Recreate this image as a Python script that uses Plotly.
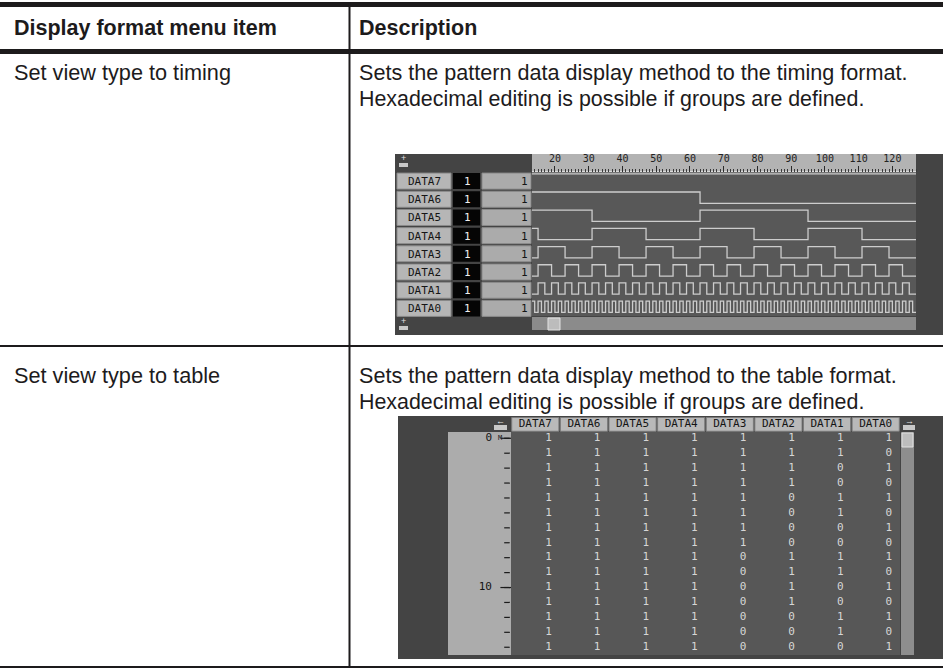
import plotly.graph_objects as go

# ---------------- data ----------------
header_labels = ["Display format menu item", "Description"]
menu_items = ["Set view type to timing", "Set view type to table"]
desc_timing = ["Sets the pattern data display method to the timing format.",
               "Hexadecimal editing is possible if groups are defined."]
desc_table = ["Sets the pattern data display method to the table format.",
              "Hexadecimal editing is possible if groups are defined."]

channels = ["DATA7", "DATA6", "DATA5", "DATA4", "DATA3", "DATA2", "DATA1", "DATA0"]
channel_radix = ["1", "1", "1", "1", "1", "1", "1", "1"]
channel_values = ["1", "1", "1", "1", "1", "1", "1", "1"]

# timing view: levels per step, first visible step = 14
wave_start_step = 14
wave_bits = {
    "DATA7": "11 1111111111111111 1111111111111111 1111111111111111 1111111111111111 1111111111111111 1111111111111111 1111111111111111",
    "DATA6": "11 1111111111111111 1111111111111111 1111111111111111 0000000000000000 0000000000000000 0000000000000000 0000000000000000",
    "DATA5": "11 1111111111111111 0000000000000000 0000000000000000 1111111111111111 1111111111111111 0000000000000000 0000000000000000",
    "DATA4": "11 0000000000000000 1111111111111111 0000000000000000 1111111111111111 0000000000000000 1111111111111111 0000000000000000",
    "DATA3": "00 1111111100000000 1111111100000000 1111111100000000 1111111100000000 1111111100000000 1111111100000000 1111111100000000",
    "DATA2": "00 1111000011110000 1111000011110000 1111000011110000 1111000011110000 1111000011110000 1111000011110000 1111000011110000",
    "DATA1": "00 1100110011001100 1100110011001100 1100110011001100 1100110011001100 1100110011001100 1100110011001100 1100110011001100",
    "DATA0": "10 1010101010101010 1010101010101010 1010101010101010 1010101010101010 1010101010101010 1010101010101010 1010101010101010",
}
ruler_labels = ["20", "30", "40", "50", "60", "70", "80", "90", "100", "110", "120"]
ruler_steps = [21, 31, 41, 51, 61, 71, 81, 91, 101, 111, 121]
wave_view = [14.2, 128]

# table view: rows 0..14, columns DATA7..DATA0
table_rows = [
    "11111111", "11111110", "11111101", "11111100", "11111011",
    "11111010", "11111001", "11111000", "11110111", "11110110",
    "11110101", "11110100", "11110011", "11110010", "11110001",
]
table_row_label_index = [0, 10]
table_row_labels = ["0", "10"]

# ---------------- layout helpers ----------------
W, H = 943, 671
def fx(px):
    return px / W
def fy(py):
    return 1 - py / H

TXT = "Liberation Sans, Arial, sans-serif"
MONO = "DejaVu Sans Mono, monospace"
INK = "#1d1b1c"

shapes = []
annotations = []

def rect(x0, y0, x1, y1, fill, line=None, lw=0, xref="paper", yref="paper", layer="below"):
    d = dict(type="rect", xref=xref, yref=yref, layer=layer,
             x0=fx(x0) if xref == "paper" else x0, x1=fx(x1) if xref == "paper" else x1,
             y0=fy(y0) if yref == "paper" else y0, y1=fy(y1) if yref == "paper" else y1,
             fillcolor=fill, line=dict(width=lw, color=line or fill))
    shapes.append(d)

def text(x, y, s, size, color=INK, family=TXT, xanchor="left", bold=False, yref="paper", yv=None):
    annotations.append(dict(
        xref="paper", yref=yref, x=fx(x), y=fy(y) if yref == "paper" else yv,
        text=("<b>%s</b>" % s) if bold else s, showarrow=False,
        xanchor=xanchor, yanchor="middle",
        font=dict(family=family, size=size, color=color)))

# ---------------- document table rules ----------------
rect(0, 2, W, 7, INK)
rect(0, 49, W, 54, INK)
rect(348.5, 2, 350.5, 667, INK)
rect(0, 345, W, 347, INK)
rect(0, 666, W, 668, INK)

text(12, 27.5, header_labels[0], 21.5, bold=True)
text(357, 27.5, header_labels[1], 21.5, bold=True)

text(12, 72.5, menu_items[0], 21.7)
text(357, 72.5, desc_timing[0], 21.6)
text(357, 98.5, desc_timing[1], 21.4)

text(12, 375.5, menu_items[1], 21.7)
text(357, 375.5, desc_table[0], 21.6)
text(357, 401.5, desc_table[1], 21.4)

# ---------------- timing screenshot ----------------
FRAME = "#444444"
WAVE_BG = "#585858"
rect(395, 154, W, 335, FRAME)
rect(532, 154, 916, 171, "#b3b3b3")
rect(532, 171, 916, 172.5, "#dcdcdc")
rect(532, 172.5, 916, 316, WAVE_BG)
rect(532, 317, 916, 330, "#8b8b8b")
rect(548, 318, 560, 330, "#bcbcbc", line="#e2e2e2", lw=1)
# scroll icons
rect(399, 163, 408, 167, "#c8c8c8")
text(403.5, 158.5, "+", 9, color="#e0e0e0", xanchor="center")
rect(399, 326, 408, 330, "#c8c8c8")
text(403.5, 321.5, "+", 9, color="#e0e0e0", xanchor="center")

for i, name in enumerate(channels):
    rect(397, i + 0.06, 451, i + 0.94, "#b6b6b6", line="#8a8a8a", lw=1, yref="y2")
    rect(453, i + 0.06, 480, i + 0.94, "#050505", yref="y2")
    rect(482, i + 0.06, 531, i + 0.94, "#ababab", line="#8a8a8a", lw=1, yref="y2")
    text(424, 0, name, 11, color="#151515", family=MONO, xanchor="center", yref="y2", yv=i + 0.52)
    text(467, 0, channel_radix[i], 11, color="#f0f0f0", family=MONO, xanchor="center", yref="y2", yv=i + 0.52)
    text(530, 0, channel_values[i], 11, color="#151515", family=MONO, xanchor="right", yref="y2", yv=i + 0.52)

HIGH, LOW = 0.1, 0.72
fig = go.Figure()
for i, name in enumerate(channels):
    bits = wave_bits[name].replace(" ", "")
    xs = [wave_start_step + k for k in range(len(bits))] + [wave_start_step + len(bits)]
    ys = [i + (HIGH if b == "1" else LOW) for b in bits]
    ys.append(ys[-1])
    fig.add_trace(go.Scatter(x=xs, y=ys, mode="lines", xaxis="x2", yaxis="y2",
                             line=dict(shape="hv", color="#cdcdcd", width=1.3),
                             hoverinfo="skip", showlegend=False))

# ---------------- table screenshot ----------------
rect(398, 416, W, 659, FRAME)
rect(448, 432, 511, 655, "#acacac")
rect(511, 432, 900, 655, "#575757")
rect(901, 432, 914, 655, "#8e8e8e")
rect(902, 433, 913, 447, "#bdbdbd", line="#e0e0e0", lw=1)
rect(494, 425, 507, 430, "#c8c8c8")
text(500.5, 420.5, "←", 9, color="#e8e8e8", xanchor="center")
rect(903, 425, 915, 430, "#c8c8c8")
text(909, 420.5, "→", 9, color="#e8e8e8", xanchor="center")

for c in range(len(channels)):
    shapes.append(dict(type="rect", xref="x4", yref="y4", layer="below",
                       x0=c + 0.015, x1=c + 0.985, y0=-1.39, y1=-0.47,
                       fillcolor="#b9b9b9", line=dict(width=1, color="#7c7c7c")))

dx, dy, dt = [], [], []
for r, row in enumerate(table_rows):
    for c, ch in enumerate(row):
        dx.append(c + 0.77)
        dy.append(r)
        dt.append(ch)
fig.add_trace(go.Scatter(x=dx, y=dy, text=dt, mode="text", xaxis="x4", yaxis="y4",
                         textfont=dict(family=MONO, size=11, color="#d6d6d6"),
                         hoverinfo="skip", showlegend=False))
fig.add_trace(go.Scatter(x=[c + 0.5 for c in range(len(channels))], y=[-0.93] * len(channels),
                         text=channels, mode="text", xaxis="x4", yaxis="y4",
                         textfont=dict(family=MONO, size=11, color="#151515"),
                         hoverinfo="skip", showlegend=False))
fig.add_trace(go.Scatter(x=[492] * len(table_row_labels), y=table_row_label_index,
                         text=table_row_labels, mode="text", textposition="middle left",
                         xaxis="x5", yaxis="y4",
                         textfont=dict(family=MONO, size=11, color="#151515"),
                         hoverinfo="skip", showlegend=False))
fig.add_trace(go.Scatter(x=[507] * len(table_rows), y=list(range(len(table_rows))),
                         mode="markers", xaxis="x5", yaxis="y4",
                         marker=dict(symbol="line-ew-open", size=4, color="#1a1a1a",
                                     line=dict(width=1.2, color="#1a1a1a")),
                         hoverinfo="skip", showlegend=False))
fig.add_trace(go.Scatter(x=[506] * len(table_row_label_index), y=table_row_label_index,
                         mode="markers", xaxis="x5", yaxis="y4",
                         marker=dict(symbol="line-ew-open", size=8, color="#1a1a1a",
                                     line=dict(width=1.2, color="#1a1a1a")),
                         hoverinfo="skip", showlegend=False))
fig.add_trace(go.Scatter(x=[500], y=[table_row_label_index[0]], text=["M"], mode="text",
                         xaxis="x5", yaxis="y4",
                         textfont=dict(family=MONO, size=7, color="#1a1a1a"),
                         hoverinfo="skip", showlegend=False))

hidden = dict(visible=False, showgrid=False, zeroline=False, fixedrange=True)
fig.update_layout(
    width=W, height=H, margin=dict(l=0, r=0, t=0, b=0),
    paper_bgcolor="white", plot_bgcolor="rgba(0,0,0,0)",
    showlegend=False,
    xaxis=dict(domain=[0, 1], range=[0, W], **hidden),
    yaxis=dict(domain=[0, 1], range=[H, 0], **hidden),
    xaxis2=dict(domain=[fx(532), fx(916)], range=wave_view, anchor="free", position=fy(171.5),
                side="top", showgrid=False, zeroline=False, showline=False, fixedrange=True,
                tickmode="array", tickvals=ruler_steps, ticktext=ruler_labels,
                ticks="outside", ticklen=6, tickwidth=1, tickcolor="#2a2a2a",
                tickfont=dict(family=MONO, size=10, color="#222222"),
                minor=dict(dtick=1, tick0=0, ticks="outside", ticklen=3, tickwidth=1, tickcolor="#3a3a3a")),
    yaxis2=dict(domain=[fy(317.5), fy(172)], range=[8, 0], anchor="x2", **hidden),
    xaxis4=dict(domain=[fx(511), fx(900)], range=[0, 8], anchor="y4", **hidden),
    yaxis4=dict(domain=[fy(655), fy(417)], range=[14.52, -1.425], anchor="x4", **hidden),
    xaxis5=dict(domain=[fx(448), fx(511)], range=[448, 511], anchor="y4", **hidden),
    shapes=shapes, annotations=annotations,
)

fig.write_html("out.html", config={"displayModeBar": False, "staticPlot": True},
               post_script="document.body.style.margin='0';document.body.style.overflow='hidden';")
